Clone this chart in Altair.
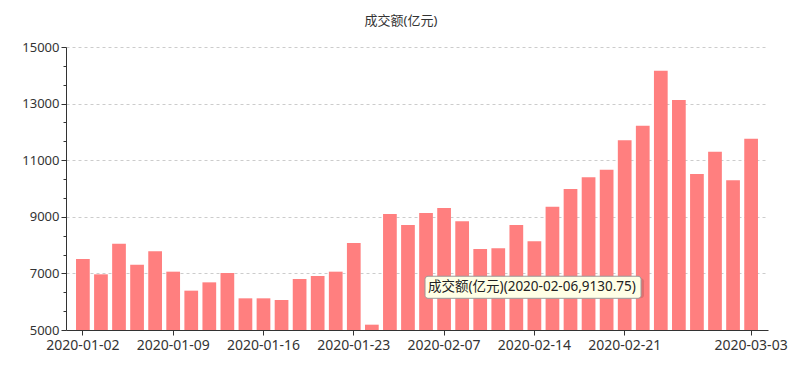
import altair as alt
import pandas as pd

dates = [
    "2020-01-02", "2020-01-03", "2020-01-06", "2020-01-07", "2020-01-08",
    "2020-01-09", "2020-01-10", "2020-01-13", "2020-01-14", "2020-01-15",
    "2020-01-16", "2020-01-17", "2020-01-20", "2020-01-21", "2020-01-22",
    "2020-01-23", "2020-02-03", "2020-02-04", "2020-02-05", "2020-02-06",
    "2020-02-07", "2020-02-10", "2020-02-11", "2020-02-12", "2020-02-13",
    "2020-02-14", "2020-02-17", "2020-02-18", "2020-02-19", "2020-02-20",
    "2020-02-21", "2020-02-24", "2020-02-25", "2020-02-26", "2020-02-27",
    "2020-02-28", "2020-03-02", "2020-03-03",
]
turnover = [
    7509, 6967, 8051, 7309, 7780, 7061, 6390, 6684, 7014, 6119,
    6119, 6060, 6802, 6908, 7061, 8074, 5188, 9099, 8710, 9130.75,
    9311, 8840, 7862, 7886, 8710, 8133, 9358, 9982, 10395, 10665,
    11702, 12220, 14164, 13127, 10512, 11302, 10289, 11761,
]
x_label_dates = ["2020-01-02", "2020-01-09", "2020-01-16", "2020-01-23",
                 "2020-02-07", "2020-02-14", "2020-02-21", "2020-03-03"]
y_tick_values = [5000, 5666.667, 6333.333, 7000, 7666.667, 8333.333, 9000,
                 9666.667, 10333.333, 11000, 11666.667, 12333.333, 13000,
                 13666.667, 14333.333, 15000]

series_name = "成交额(亿元)"
tip_date = "2020-02-06"
tip_value = 9130.75

df = pd.DataFrame({"date": dates, "value": turnover})
tip = pd.DataFrame({
    "date": [tip_date],
    "top": [6900],
    "bottom": [6120],
    "mid": [6520],
    "label": [f"{series_name}({tip_date},{tip_value})"],
})

FONT = "Noto Sans, Noto Sans CJK SC, sans-serif"
major = "abs(datum.value % 2000 - 1000) < 1"

xscale = alt.Scale(paddingInner=0.24, paddingOuter=0.555)
yscale = alt.Scale(domain=[5000, 15000], zero=False, nice=False)

xaxis = alt.Axis(values=x_label_dates, labelAngle=0, tickSize=5,
                 labelPadding=3, labelFontSize=14, labelColor="#333",
                 labelOverlap=False, domainColor="#333",
                 tickColor="#333", grid=False)
yaxis = alt.Axis(values=y_tick_values, format="d",
                 labelExpr=f"({major}) ? datum.label : ''",
                 labelOverlap=False, labelFontSize=13,
                 labelColor="#333", labelPadding=2,
                 domainColor="#333", tickColor="#333",
                 tickSize={"condition": {"test": major, "value": 5}, "value": 3},
                 grid=True, gridColor="#cccccc", gridDash=[3, 3],
                 gridOpacity={"condition": {"test": f"({major}) && datum.value > 5000", "value": 1}, "value": 0})


def X(field):
    return alt.X(field, scale=xscale, axis=xaxis, title=None)


def Y(field):
    return alt.Y(field, scale=yscale, axis=yaxis, title=None)


bars = alt.Chart(df).mark_bar(color="#ff7f7f", clip=True).encode(
    x=X("date:O"), y=Y("value:Q"), y2=alt.datum(5000),
)

shadow = alt.Chart(tip).mark_rect(width=216, xOffset=110, yOffset=2, fill="#000000",
                                  opacity=0.12, cornerRadius=3).encode(
    x=X("date:O"), y=Y("top:Q"), y2="bottom:Q")

box = alt.Chart(tip).mark_rect(width=216, xOffset=107, fill="#ffffe6",
                               stroke="#9a9a9a", strokeWidth=1, cornerRadius=3).encode(
    x=X("date:O"), y=Y("top:Q"), y2="bottom:Q")

text = alt.Chart(tip).mark_text(align="left", baseline="middle", dx=2, fontSize=13.5,
                                color="#222", font=FONT).encode(
    x=X("date:O"), y=Y("mid:Q"), text="label:N")

chart = alt.layer(bars, shadow, box, text).properties(
    width=702, height=283,
    autosize=alt.AutoSizeParams(type="none"),
    padding={"left": 66, "top": 47, "right": 32, "bottom": 46},
    title=alt.TitleParams(series_name, fontSize=13, fontWeight="normal", color="#333",
                          anchor="middle", dx=-16, font=FONT, offset=13),
).configure(font=FONT).configure_view(stroke=None).configure_axis(labelFont=FONT)

chart.save("out.html", embed_options={"renderer": "svg", "actions": False})
